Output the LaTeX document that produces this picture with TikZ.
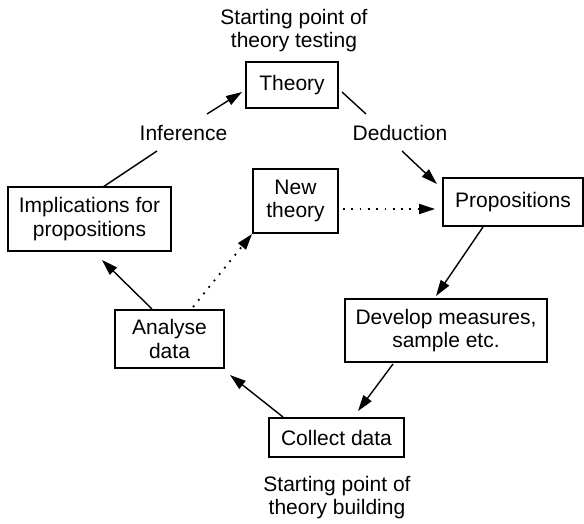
\documentclass[tikz,border=0pt]{standalone}
\usepackage{fontspec}
\setmainfont{Liberation Sans}
\usetikzlibrary{arrows.meta}
\begin{document}
\begin{tikzpicture}[x=1pt,y=-1pt,
  txt/.style={font=\fontsize{21}{23.5}\selectfont, align=center, inner sep=0pt},
  box/.style={txt, draw, line width=1.8pt},
  conn/.style={line width=1.4pt},
  arr/.style={conn, -{Triangle[length=16pt,width=10pt]}},
  dots/.style={line width=1.8pt, dash pattern=on 1.8pt off 6.5pt},
  darr/.style={dots, -{Triangle[length=16pt,width=10pt]}}]
\fill[white] (0,0) rectangle (584,524);
\useasboundingbox (0,0) rectangle (584,524);

% boxes
\node[box, minimum width=92pt, minimum height=46pt] (theory) at (292,85) {Theory};
\node[box, minimum width=140pt, minimum height=48pt] (prop) at (513,202) {Propositions};
\node[box, minimum width=85pt, minimum height=64pt] (newth) at (295.5,201) {New\\theory};
\node[box, minimum width=163pt, minimum height=64pt] (impl) at (89.5,219) {Implications for\\propositions};
\node[box, minimum width=109pt, minimum height=58pt] (anal) at (169.5,339) {Analyse\\data};
\node[box, minimum width=202pt, minimum height=63pt] (dev) at (446,330.5) {Develop measures,\\sample etc.};
\node[box, minimum width=135pt, minimum height=39pt] (coll) at (336.5,437.5) {Collect data};

% labels
\node[txt, anchor=base] (inf) at (183.5,141) {Inference};
\node[txt, anchor=base] (ded) at (400,141) {Deduction};
\node[txt] (top) at (294,30.5) {Starting point of\\theory testing};
\node[txt] (bot) at (337,497.5) {Starting point of\\theory building};

% connectors
\draw[conn] ([shift={(13.5,-32)}]impl.center) -- ([shift={(-26.5,10)}]inf.base);
\draw[arr]  ([shift={(23.5,-27)}]inf.base) -- ([shift={(-50,7)}]theory.center);
\draw[conn] ([shift={(50,7)}]theory.center) -- ([shift={(-34,-27)}]ded.base);
\draw[arr]  ([shift={(2,10)}]ded.base) -- ([shift={(-76,-18)}]prop.center);
\draw[arr]  ([shift={(-30,25)}]prop.center) -- ([shift={(-10,-34.5)}]dev.center);
\draw[arr]  ([shift={(-53,33.5)}]dev.center) -- ([shift={(21.5,-26.5)}]coll.center);
\draw[arr]  ([shift={(-53.5,-20.5)}]coll.center) -- ([shift={(60.5,36)}]anal.center);
\draw[arr]  ([shift={(-17.5,-30)}]anal.center) -- ([shift={(12.5,41)}]impl.center);
\draw[darr] ([shift={(23.5,-32)}]anal.center) -- ([shift={(-43.5,33)}]newth.center);
\draw[darr] ([shift={(47.5,8)}]newth.center) -- ([shift={(-78,7)}]prop.center);
\end{tikzpicture}
\end{document}
